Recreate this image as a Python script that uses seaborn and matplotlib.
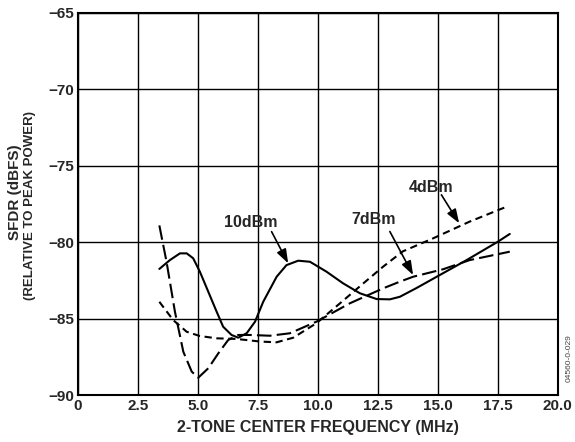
### Imports of the program
import matplotlib
matplotlib.use("Agg")
import matplotlib.pyplot as plt
import numpy as np
import pandas as pd
import seaborn as sns

### Data
freq_10dbm = [3.39, 3.83, 4.25, 4.53, 4.8, 5.08, 5.43, 5.78, 6.05, 6.4, 6.68, 7.03,
              7.38, 7.72, 8.28, 8.69, 9.18, 9.67, 10.36, 11.05, 11.75, 12.45, 13.0,
              13.42, 14.11, 15.08, 16.2, 17.5, 18.0]
sfdr_10dbm = [-81.75, -81.17, -80.73, -80.73, -81.05, -81.93, -83.24, -84.55, -85.53,
              -86.07, -86.25, -85.96, -85.2, -83.9, -82.26, -81.5, -81.21, -81.28,
              -81.93, -82.69, -83.34, -83.72, -83.74, -83.57, -83.0, -82.15, -81.17,
              -79.97, -79.46]

freq_7dbm = [3.39, 3.69, 4.04, 4.39, 4.74, 5.01, 5.43, 5.85, 6.26, 6.68, 7.17, 8.0,
             8.83, 9.94, 11.33, 12.72, 13.42, 13.97, 15.22, 16.33, 18.0]
sfdr_7dbm = [-78.9, -81.28, -84.55, -87.17, -88.47, -88.87, -88.25, -87.27, -86.4,
             -86.07, -86.07, -86.12, -85.96, -85.2, -84.0, -83.02, -82.58, -82.26,
             -81.77, -81.17, -80.62]

freq_4dbm = [3.39, 3.97, 4.53, 5.08, 5.78, 6.61, 7.58, 8.28, 8.97, 9.94, 10.92, 11.89,
             12.72, 13.54, 14.8, 16.33, 17.83]
sfdr_4dbm = [-83.9, -85.1, -85.86, -86.14, -86.29, -86.33, -86.5, -86.55, -86.25, -85.3,
             -84.0, -82.7, -81.6, -80.6, -79.75, -78.65, -77.7]

x_ticks = [0, 2.5, 5.0, 7.5, 10.0, 12.5, 15.0, 17.5, 20.0]
x_tick_labels = ["0", "2.5", "5.0", "7.5", "10.0", "12.5", "15.0", "17.5", "20.0"]
y_ticks = [-90, -85, -80, -75, -70, -65]


def main():
    sns.set_theme(style="white")
    plt.rcParams['font.family'] = ['Liberation Sans', 'DejaVu Sans']
    plt.rcParams['font.weight'] = 'bold'

    fig = plt.figure(figsize=(5.75, 4.42), dpi=100)
    ax = fig.add_axes([0.1357, 0.1063, 0.8343, 0.8643])

    ## the three curves, all black, told apart by dash pattern
    curves = [
        (freq_10dbm, sfdr_10dbm, '-'),
        (freq_7dbm, sfdr_7dbm, (0, (7, 2.5))),
        (freq_4dbm, sfdr_4dbm, (0, (3.5, 2.2))),
    ]
    for fx, fy, ls in curves:
        df = pd.DataFrame({'freq': fx, 'sfdr': fy})
        sns.lineplot(data=df, x='freq', y='sfdr', color='black', linewidth=1.5,
                     sort=False, ax=ax)
        ax.lines[-1].set_linestyle(ls)
        ax.lines[-1].set_solid_joinstyle('round')

    ax.set_xlim(0, 20)
    ax.set_ylim(-90, -65)
    ax.set_xticks(x_ticks)
    ax.set_xticklabels(x_tick_labels)
    ax.set_yticks(y_ticks)
    ax.grid(True, color='black', linewidth=1.0)
    ax.tick_params(length=0, labelsize=11, pad=3)
    for lab in ax.get_xticklabels() + ax.get_yticklabels():
        lab.set_fontweight('bold')
    for sp in ax.spines.values():
        sp.set_visible(True)
        sp.set_color('black')
        sp.set_linewidth(1.5)

    ax.set_xlabel('2-TONE CENTER FREQUENCY (MHz)', fontsize=11.5, fontweight='bold', labelpad=5)
    ax.set_ylabel('')
    fig.text(0.026, 0.565, 'SFDR (dBFS)', rotation=90, fontsize=11, fontweight='bold',
             ha='center', va='center')
    fig.text(0.053, 0.535, '(RELATIVE TO PEAK POWER)', rotation=90, fontsize=9.5,
             fontweight='bold', ha='center', va='center')

    ## curve labels with arrows
    arrow = dict(arrowstyle='-|>,head_length=0.7,head_width=0.25', color='black',
                 lw=1.2, shrinkA=0, shrinkB=0)
    labels = [
        ('10dBm', (7.2, -78.74), (8.07, -79.31), (8.76, -81.38)),
        ('7dBm', (12.33, -78.5), (13.0, -79.3), (13.97, -82.15)),
        ('4dBm', (14.71, -76.43), (15.15, -76.9), (15.89, -78.76)),
    ]
    for text, pos, start, tip in labels:
        ax.text(pos[0], pos[1], text, fontsize=11.5, fontweight='bold',
                ha='center', va='center')
        ax.annotate('', xy=tip, xytext=start, arrowprops=arrow)

    fig.text(0.99, 0.19, '04560-0-029', rotation=90, fontsize=6, fontweight='normal',
             color='#444444', ha='center', va='center')

    fig.savefig('out.png', dpi=100)


### Runs the main function
if __name__ == '__main__':
    main()
